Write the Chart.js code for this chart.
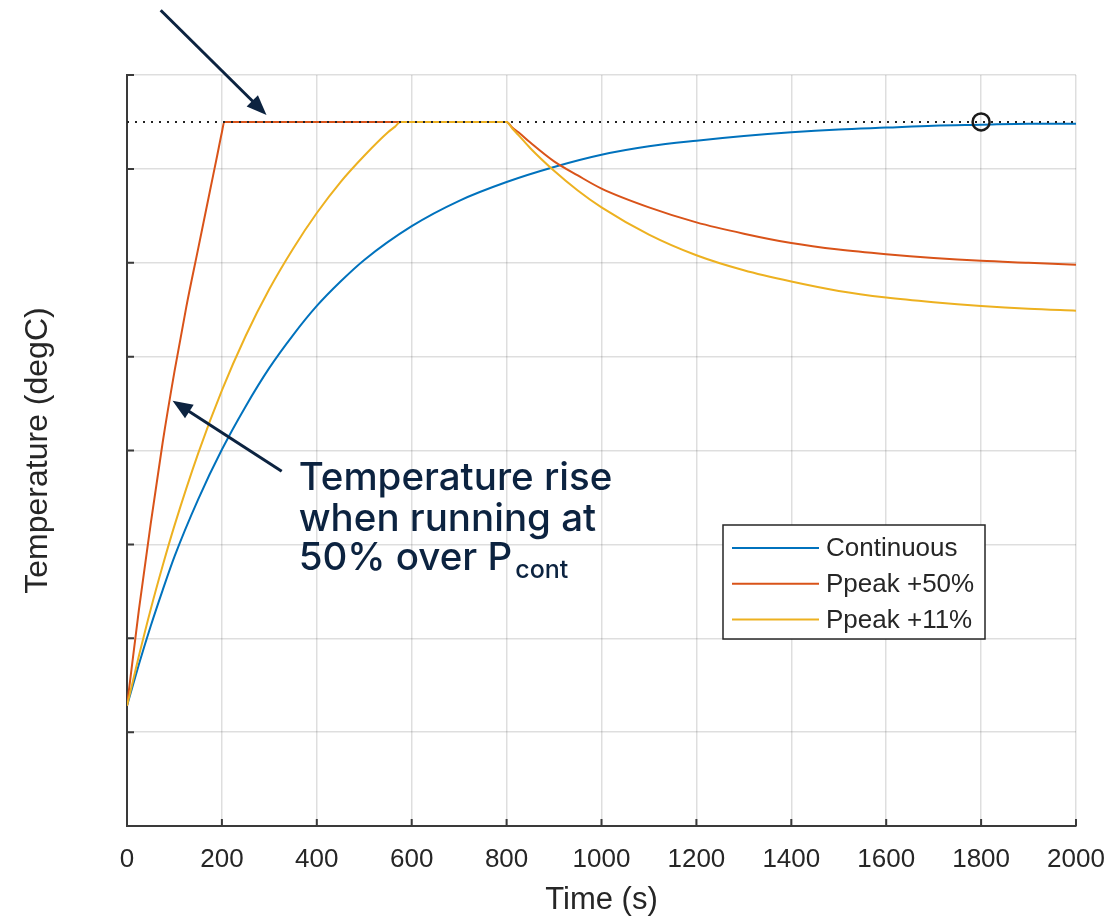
<!DOCTYPE html>
<html>
<head>
<meta charset="utf-8">
<script src="https://cdn.jsdelivr.net/npm/chart.js@4.4.1/dist/chart.umd.min.js"></script>
<style>
  html, body { margin: 0; padding: 0; background: #fff; }
  #wrap { width: 1117px; height: 918px; }
</style>
</head>
<body>
<div id="wrap"><canvas id="tempChart" width="1117" height="918"></canvas></div>
<script>
// axis ticks
const xTicks = [0, 200, 400, 600, 800, 1000, 1200, 1400, 1600, 1800, 2000];
const yTicks = [0, 1, 2, 3, 4, 5, 6, 7, 8];

// (y in grid units, labels are not shown)
const contTime = [0, 25, 50, 75, 100, 150, 200, 250, 300, 350, 400, 450, 500, 600, 700, 800, 900, 1000, 1100, 1200, 1300, 1400, 1500, 1600, 1700, 1800, 1900, 2000];
const contTemp = [1.28, 1.72, 2.13, 2.51, 2.87, 3.48, 4.01, 4.47, 4.88, 5.23, 5.54, 5.80, 6.03, 6.39, 6.66, 6.86, 7.02, 7.15, 7.24, 7.30, 7.35, 7.39, 7.42, 7.44, 7.46, 7.47, 7.48, 7.48];

const peak50Time = [0, 25, 50, 75, 100, 125, 150, 175, 190, 200, 205, 800, 812, 825, 850, 900, 950, 1000, 1100, 1200, 1300, 1400, 1500, 1600, 1700, 1800, 1900, 2000];
const peak50Temp = [1.28, 2.30, 3.22, 4.08, 4.84, 5.53, 6.15, 6.77, 7.14, 7.39, 7.5, 7.5, 7.44, 7.39, 7.28, 7.08, 6.93, 6.79, 6.59, 6.43, 6.31, 6.21, 6.14, 6.09, 6.05, 6.02, 6.00, 5.98];

const peak11Time = [0, 25, 50, 75, 100, 150, 200, 250, 300, 350, 400, 450, 500, 550, 565, 576, 800, 812, 825, 850, 900, 950, 1000, 1100, 1200, 1300, 1400, 1500, 1600, 1700, 1800, 1900, 2000];
const peak11Temp = [1.28, 1.81, 2.31, 2.77, 3.20, 3.97, 4.64, 5.22, 5.72, 6.15, 6.53, 6.86, 7.14, 7.39, 7.45, 7.5, 7.5, 7.43, 7.36, 7.22, 6.98, 6.77, 6.59, 6.30, 6.08, 5.92, 5.80, 5.70, 5.63, 5.58, 5.54, 5.51, 5.49];

const limitTemp = 7.5;
const markerTime = 1800;
const seriesLabels = ['Continuous', 'Ppeak +50%', 'Ppeak +11%'];
const seriesColors = ['#0072BD', '#D95319', '#EDB120'];

const navy = '#0c2340';
const axisColor = '#3a3a3a';
const textColor = '#262626';

function toPoints(ts, vs) {
    return ts.map((t, i) => ({ x: t, y: vs[i] }));
}

function drawArrow(ctx, x1, y1, x2, y2) {
    const ang = Math.atan2(y2 - y1, x2 - x1);
    const len = 20, half = 8;
    ctx.save();
    ctx.strokeStyle = navy;
    ctx.fillStyle = navy;
    ctx.lineWidth = 3;
    ctx.beginPath();
    ctx.moveTo(x1, y1);
    ctx.lineTo(x2 - Math.cos(ang) * (len - 2), y2 - Math.sin(ang) * (len - 2));
    ctx.stroke();
    ctx.beginPath();
    ctx.moveTo(x2, y2);
    ctx.lineTo(x2 - Math.cos(ang) * len - Math.sin(ang) * half, y2 - Math.sin(ang) * len + Math.cos(ang) * half);
    ctx.lineTo(x2 - Math.cos(ang) * len + Math.sin(ang) * half, y2 - Math.sin(ang) * len - Math.cos(ang) * half);
    ctx.closePath();
    ctx.fill();
    ctx.restore();
}

const decorPlugin = {
    id: 'decor',
    afterDraw(chart) {
        const ctx = chart.ctx;
        const xs = chart.scales.x, ys = chart.scales.y;
        const area = chart.chartArea;

        // inward tick marks, matlab style
        ctx.save();
        ctx.strokeStyle = axisColor;
        ctx.lineWidth = 2;
        ctx.beginPath();
        yTicks.forEach(v => {
            const py = ys.getPixelForValue(v);
            ctx.moveTo(area.left, py);
            ctx.lineTo(area.left + 7, py);
        });
        xTicks.forEach(v => {
            const px = xs.getPixelForValue(v);
            ctx.moveTo(px, area.bottom);
            ctx.lineTo(px, area.bottom - 7);
        });
        ctx.stroke();
        ctx.restore();

        // legend box
        const lx = area.right - 353, ly = area.bottom - 301;
        const lw = 262, lh = 114;
        ctx.save();
        ctx.fillStyle = '#fff';
        ctx.fillRect(lx, ly, lw, lh);
        ctx.strokeStyle = textColor;
        ctx.lineWidth = 1.5;
        ctx.strokeRect(lx, ly, lw, lh);
        ctx.font = "26px 'Liberation Sans', Arial, sans-serif";
        ctx.textBaseline = 'middle';
        ctx.fillStyle = textColor;
        seriesLabels.forEach((lab, i) => {
            const ry = ly + 23 + i * 35.7;
            ctx.strokeStyle = seriesColors[i];
            ctx.lineWidth = 2;
            ctx.beginPath();
            ctx.moveTo(lx + 9, ry);
            ctx.lineTo(lx + 96, ry);
            ctx.stroke();
            ctx.fillText(lab, lx + 103, ry + 1);
        });
        ctx.restore();

        // annotations
        drawArrow(ctx, xs.getPixelForValue(71), ys.getPixelForValue(8.69),
                       xs.getPixelForValue(294), ys.getPixelForValue(7.575));
        const tailX = xs.getPixelForValue(326), tailY = ys.getPixelForValue(3.78);
        drawArrow(ctx, tailX, tailY, xs.getPixelForValue(96), ys.getPixelForValue(4.53));

        ctx.save();
        ctx.fillStyle = navy;
        ctx.textBaseline = 'alphabetic';
        ctx.font = "500 38.5px Inter, 'Noto Sans', sans-serif";
        const tx = tailX + 17, ty = tailY + 19;
        ctx.fillText('Temperature rise', tx, ty);
        ctx.fillText('when running at', tx, ty + 40.5);
        ctx.fillText('50% over P', tx, ty + 80);
        const w = ctx.measureText('50% over P').width;
        ctx.font = "500 25px Inter, 'Noto Sans', sans-serif";
        ctx.fillText('cont', tx + w + 3, ty + 88);
        ctx.restore();
    }
};

const ctx = document.getElementById('tempChart').getContext('2d');
Chart.defaults.font.family = "'Liberation Sans', Arial, sans-serif";

const chart = new Chart(ctx, {
    type: 'line',
    data: {
        datasets: [
            {
                label: 'limit',
                data: toPoints([xTicks[0], xTicks[xTicks.length - 1]], [limitTemp, limitTemp]),
                borderColor: '#222',
                borderWidth: 2,
                borderDash: [2, 6],
                pointRadius: 0,
                order: 0
            },
            {
                label: 'marker',
                data: toPoints([markerTime], [limitTemp]),
                showLine: false,
                pointRadius: 8.5,
                pointBorderWidth: 2.5,
                pointBorderColor: '#1a1a1a',
                pointBackgroundColor: 'rgba(0,0,0,0)',
                order: 0
            },
            {
                label: seriesLabels[2],
                data: toPoints(peak11Time, peak11Temp),
                borderColor: seriesColors[2],
                borderWidth: 2,
                pointRadius: 0,
                cubicInterpolationMode: 'monotone',
                order: 1
            },
            {
                label: seriesLabels[1],
                data: toPoints(peak50Time, peak50Temp),
                borderColor: seriesColors[1],
                borderWidth: 2,
                pointRadius: 0,
                cubicInterpolationMode: 'monotone',
                order: 2
            },
            {
                label: seriesLabels[0],
                data: toPoints(contTime, contTemp),
                borderColor: seriesColors[0],
                borderWidth: 2,
                pointRadius: 0,
                cubicInterpolationMode: 'monotone',
                order: 3
            }
        ]
    },
    options: {
        responsive: false,
        animation: false,
        devicePixelRatio: 1,
        layout: { padding: { left: 0, top: 75, right: 41, bottom: 0 } },
        plugins: {
            legend: { display: false },
            tooltip: { enabled: false }
        },
        scales: {
            x: {
                type: 'linear',
                min: xTicks[0],
                max: xTicks[xTicks.length - 1],
                afterBuildTicks: scale => { scale.ticks = xTicks.map(v => ({ value: v })); },
                afterFit: scale => {
                    scale.height = 92;
                    scale.paddingLeft = 0;
                    scale.paddingRight = 0;
                },
                ticks: {
                    autoSkip: false,
                    maxRotation: 0,
                    padding: 18,
                    color: textColor,
                    font: { size: 26 },
                    callback: v => String(v)
                },
                grid: { color: 'rgba(0,0,0,0.13)', lineWidth: 1.5, drawTicks: false },
                border: { color: axisColor, width: 2 },
                title: {
                    display: true,
                    text: 'Time (s)',
                    color: textColor,
                    font: { size: 31 },
                    padding: { top: 0, bottom: -1 }
                }
            },
            y: {
                type: 'linear',
                min: yTicks[0],
                max: yTicks[yTicks.length - 1],
                afterBuildTicks: scale => { scale.ticks = yTicks.map(v => ({ value: v })); },
                afterFit: scale => {
                    scale.width = 127;
                    scale.paddingTop = 0;
                    scale.paddingBottom = 0;
                },
                ticks: { display: false },
                grid: { color: 'rgba(0,0,0,0.13)', lineWidth: 1.5, drawTicks: false },
                border: { color: axisColor, width: 2 },
                title: {
                    display: true,
                    text: 'Temperature (degC)',
                    color: textColor,
                    font: { size: 32 },
                    padding: { top: 19, bottom: 0 }
                }
            }
        }
    },
    plugins: [decorPlugin]
});
</script>
</body>
</html>
